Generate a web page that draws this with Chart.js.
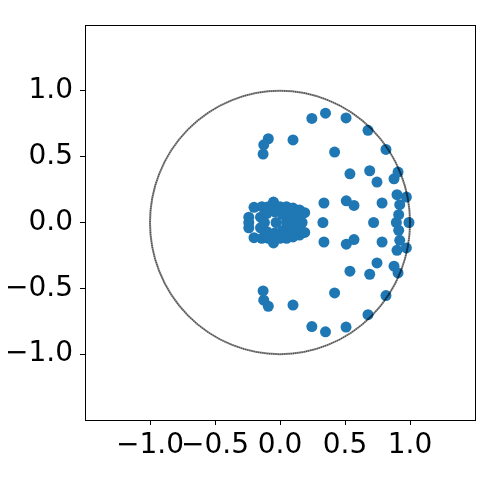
<!DOCTYPE html>
<html>
<head>
<meta charset="utf-8">
<script src="https://cdn.jsdelivr.net/npm/chart.js@4/dist/chart.umd.min.js"></script>
<style>
  html, body { margin: 0; padding: 0; background: #fff; }
  #wrap { width: 500px; height: 500px; }
</style>
</head>
<body>
<div id="wrap"><canvas id="eigChart" width="500" height="500"></canvas></div>
<script>
const realParts = [
    0.35, 0.245, 0.508, 0.677, 0.815, 0.42, 0.10, -0.09, -0.125, -0.13,
    0.538, 0.69, 0.746, 0.877, 0.908, 0.90, 0.972, 0.921, 0.785, 0.913,
    0.51, 0.569, 0.338,
    0.35, 0.245, 0.508, 0.677, 0.815, 0.42, 0.10, -0.09, -0.125, -0.13,
    0.538, 0.69, 0.746, 0.877, 0.908, 0.90, 0.972, 0.921, 0.785, 0.913,
    0.51, 0.569, 0.338,
    0.72, 0.895, 0.992, 0.33,
    // cluster near the origin
    -0.05, -0.20, -0.14, -0.09, 0.0, 0.05, 0.10, 0.15, 0.19,
    -0.24, -0.15, -0.10, -0.04, 0.02, 0.08, 0.14,
    -0.05, -0.20, -0.14, -0.09, 0.0, 0.05, 0.10, 0.15, 0.19,
    -0.24, -0.15, -0.10, -0.04, 0.02, 0.08, 0.14,
    -0.24, -0.12, -0.03, 0.05, 0.12, 0.17
];
const imagParts = [
    0.83, 0.79, 0.794, 0.70, 0.555, 0.535, 0.627, 0.636, 0.59, 0.52,
    0.37, 0.393, 0.307, 0.332, 0.383, 0.211, 0.193, 0.135, 0.148, 0.059,
    0.165, 0.13, 0.148,
    -0.83, -0.79, -0.794, -0.70, -0.555, -0.535, -0.627, -0.636, -0.59, -0.52,
    -0.37, -0.393, -0.307, -0.332, -0.383, -0.211, -0.193, -0.135, -0.148, -0.059,
    -0.165, -0.13, -0.148,
    0, 0, 0, 0,
    0.155, 0.115, 0.12, 0.12, 0.12, 0.12, 0.11, 0.095, 0.075,
    0.04, 0.04, 0.07, 0.08, 0.06, 0.06, 0.04,
    -0.155, -0.115, -0.12, -0.12, -0.12, -0.12, -0.11, -0.095, -0.075,
    -0.04, -0.04, -0.07, -0.08, -0.06, -0.06, -0.04,
    0, 0, 0, 0, 0, 0
];

const tickValues = [-1.0, -0.5, 0.0, 0.5, 1.0];
const tickLabels = ['\u22121.0', '\u22120.5', '0.0', '0.5', '1.0'];

const axisMin = -1.5;
const axisMax = 1.5;

const points = realParts.map((re, i) => ({ x: re, y: imagParts[i] }));

// unit circle drawn through the scales, on top of the points
const unitCircle = {
    id: 'unitCircle',
    afterDatasetsDraw(chart) {
        const { ctx, scales } = chart;
        const cx = scales.x.getPixelForValue(0);
        const cy = scales.y.getPixelForValue(0);
        const rx = scales.x.getPixelForValue(1) - cx;
        const ry = cy - scales.y.getPixelForValue(1);
        ctx.save();
        ctx.beginPath();
        ctx.ellipse(cx, cy, rx, ry, 0, 0, Math.PI * 2);
        ctx.strokeStyle = 'rgba(0,0,0,0.45)';
        ctx.lineWidth = 2;
        ctx.stroke();
        ctx.setLineDash([1, 1.2]);
        ctx.strokeStyle = 'rgba(0,0,0,0.5)';
        ctx.lineWidth = 1.4;
        ctx.stroke();
        ctx.restore();
    }
};

// black frame round the plot area
const frame = {
    id: 'frame',
    afterDraw(chart) {
        const { ctx, chartArea } = chart;
        ctx.save();
        ctx.strokeStyle = '#000';
        ctx.lineWidth = 1;
        ctx.strokeRect(Math.round(chartArea.left) + 0.5, Math.round(chartArea.top) + 0.5,
            Math.round(chartArea.right - chartArea.left), Math.round(chartArea.bottom - chartArea.top));
        ctx.restore();
    }
};

const tickFont = { family: 'DejaVu Sans', size: 28 };

const ctx = document.getElementById('eigChart').getContext('2d');
const chart = new Chart(ctx, {
    type: 'scatter',
    data: {
        datasets: [{
            data: points,
            backgroundColor: '#1f77b4',
            borderWidth: 0,
            pointRadius: 5.5,
            pointHoverRadius: 5.5
        }]
    },
    options: {
        responsive: false,
        animation: false,
        devicePixelRatio: 1,
        layout: { padding: { top: 25, right: 25, left: 0, bottom: 0 } },
        plugins: {
            legend: { display: false },
            tooltip: { enabled: false }
        },
        scales: {
            x: {
                type: 'linear',
                min: axisMin,
                max: axisMax,
                afterBuildTicks: axis => { axis.ticks = tickValues.map(v => ({ value: v })); },
                afterFit: scale => { scale.height = 80; },
                border: { display: false },
                grid: { drawOnChartArea: false, tickLength: 5, color: '#000', tickWidth: 1 },
                ticks: {
                    callback: v => tickLabels[tickValues.indexOf(v)],
                    font: tickFont,
                    color: '#000',
                    autoSkip: false,
                    maxRotation: 0,
                    minRotation: 0,
                    padding: 4
                }
            },
            y: {
                type: 'linear',
                min: axisMin,
                max: axisMax,
                afterBuildTicks: axis => { axis.ticks = tickValues.map(v => ({ value: v })); },
                afterFit: scale => { scale.width = 85; },
                border: { display: false },
                grid: { drawOnChartArea: false, tickLength: 5, color: '#000', tickWidth: 1 },
                ticks: {
                    callback: v => tickLabels[tickValues.indexOf(v)],
                    font: tickFont,
                    color: '#000',
                    autoSkip: false,
                    padding: 7
                }
            }
        }
    },
    plugins: [unitCircle, frame]
});
</script>
</body>
</html>
